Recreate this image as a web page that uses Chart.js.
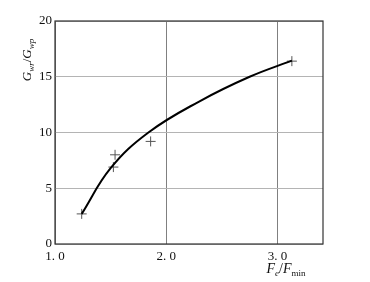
<!DOCTYPE html>
<html>
<head>
<meta charset="utf-8">
<script src="https://cdn.jsdelivr.net/npm/chart.js@4/dist/chart.umd.min.js"></script>
<style>
  html, body { margin: 0; padding: 0; background: #fff; }
  #chart_container { width: 370px; height: 282px; }
</style>
</head>
<body>
<div id="chart_container">
    <canvas id="curva"></canvas>
</div>
<script>
    // fitted curve
    const fitX = [1.24, 1.5, 1.84, 2.3, 2.75, 3.13];
    const fitY = [2.7, 6.8, 10.0, 12.8, 15.0, 16.45];
    // measured points
    const measX = [1.24, 1.525, 1.54, 1.86, 3.13];
    const measY = [2.7, 6.9, 8.0, 9.2, 16.4];
    const xTicks = [1, 2, 3];
    const yTicks = [0, 5, 10, 15, 20];

    const serif = "'Liberation Serif', 'DejaVu Serif', serif";

    // draw a label like G_wr/G_wp with subscripts
    function drawParts(c, parts, x, y) {
        let px = x;
        parts.forEach(p => {
            c.font = (p.it ? 'italic ' : '') + p.size + 'px ' + serif;
            c.fillText(p.t, px, y + (p.dy || 0));
            px += c.measureText(p.t).width;
        });
    }
    function partsWidth(c, parts) {
        let w = 0;
        parts.forEach(p => {
            c.font = (p.it ? 'italic ' : '') + p.size + 'px ' + serif;
            w += c.measureText(p.t).width;
        });
        return w;
    }

    const titoli = {
        id: 'titoli',
        afterDraw(chart) {
            const c = chart.ctx;
            const a = chart.chartArea;
            c.save();
            c.strokeStyle = '#333';
            c.lineWidth = 1.2;
            c.strokeRect(a.left, a.top, a.right - a.left, a.bottom - a.top);
            c.fillStyle = '#111';
            c.textBaseline = 'alphabetic';
            c.textAlign = 'left';

            const xt = [
                { t: 'F', it: true, size: 14 },
                { t: 'e', it: true, size: 9, dy: 3 },
                { t: '/', it: false, size: 14 },
                { t: 'F', it: true, size: 14 },
                { t: 'min', it: false, size: 9, dy: 3 }
            ];
            drawParts(c, xt, 286 - partsWidth(c, xt) / 2, 273);

            const yt = [
                { t: 'G', it: true, size: 13 },
                { t: 'wr', it: true, size: 9, dy: 3 },
                { t: '/', it: false, size: 13 },
                { t: 'G', it: true, size: 13 },
                { t: 'wp', it: true, size: 9, dy: 3 }
            ];
            c.translate(31, 60);
            c.rotate(-Math.PI / 2);
            drawParts(c, yt, -partsWidth(c, yt) / 2, 0);
            c.restore();
        }
    };

    new Chart(document.getElementById('curva'), {
        type: 'scatter',
        data: {
            datasets: [
                {
                    type: 'line',
                    data: fitX.map((x, i) => ({ x: x, y: fitY[i] })),
                    borderColor: '#000',
                    borderWidth: 2,
                    pointRadius: 0,
                    tension: 0.4,
                    fill: false
                },
                {
                    data: measX.map((x, i) => ({ x: x, y: measY[i] })),
                    pointStyle: 'cross',
                    pointRadius: 5,
                    borderColor: '#555',
                    borderWidth: 1,
                    backgroundColor: '#555',
                    showLine: false
                }
            ]
        },
        options: {
            responsive: true,
            maintainAspectRatio: false,
            animation: false,
            layout: { padding: { top: 21, right: 47, left: 0, bottom: 0 } },
            plugins: {
                legend: { display: false },
                tooltip: { enabled: false }
            },
            scales: {
                x: {
                    type: 'linear',
                    min: 1,
                    max: 3.41,
                    afterBuildTicks: s => { s.ticks = xTicks.map(v => ({ value: v })); },
                    afterFit: s => { s.height = 38; },
                    grid: { color: '#808080', lineWidth: 1, drawTicks: false },
                    border: { display: false },
                    ticks: {
                        padding: 5,
                        color: '#111',
                        font: { family: serif, size: 13 },
                        callback: v => v.toFixed(1).replace('.', '. ')
                    }
                },
                y: {
                    min: 0,
                    max: 20,
                    afterBuildTicks: s => { s.ticks = yTicks.map(v => ({ value: v })); },
                    afterFit: s => { s.width = 55; },
                    grid: { color: '#b4b4b4', lineWidth: 1, drawTicks: false },
                    border: { display: false },
                    ticks: {
                        padding: 3,
                        color: '#111',
                        font: { family: serif, size: 13 }
                    }
                }
            }
        },
        plugins: [titoli]
    });
</script>
</body>
</html>
